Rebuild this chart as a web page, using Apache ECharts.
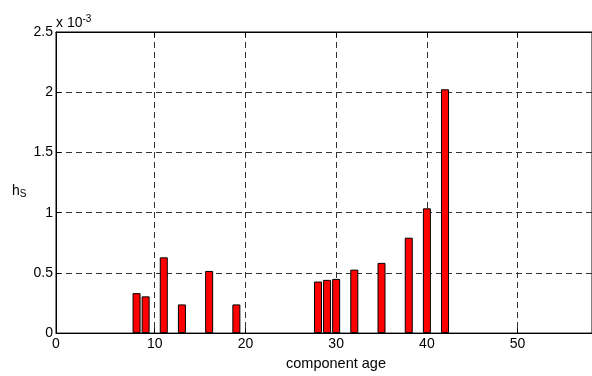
<!DOCTYPE html>
<html>
<head>
<meta charset="utf-8">
<script src="https://cdn.jsdelivr.net/npm/echarts@6/dist/echarts.min.js"></script>
<style>html,body{margin:0;padding:0;background:#fff}#c{width:592px;height:376px}</style>
</head>
<body>
<div id="c"></div>
<script>
// component ages (x)
const ages = [8, 9, 11, 13, 16, 19, 28, 29, 30, 32, 35, 38, 40, 42];
// h_S values in units of 10^-3
const hs = [0.332, 0.305, 0.629, 0.238, 0.516, 0.238, 0.428, 0.442, 0.45, 0.527, 0.583, 0.792, 1.036, 2.024];
const xLabels = [0, 10, 20, 30, 40, 50];
const xGrid = [10, 20, 30, 40, 50];
const yTicks = [0, 0.5, 1, 1.5, 2, 2.5];

const FONT = 'Liberation Sans, Arial, sans-serif';
const chart = echarts.init(document.getElementById('c'), null, {renderer: 'canvas'});
const dash = {color: '#333', type: [6, 4], width: 1};
const xMin = -0.88, xMax = 58.2;
chart.setOption({
  animation: false,
  backgroundColor: '#fff',
  grid: {left: 56, right: -3, top: 32, bottom: 33, show: true, borderColor: '#000', borderWidth: 1, backgroundColor: '#fff'},
  xAxis: [{
    type: 'value', min: xMin, max: xMax, position: 'bottom',
    axisLine: {show: true, onZero: false, lineStyle: {color: '#000', width: 1}},
    axisTick: {show: true, inside: true, length: 5, customValues: xGrid, lineStyle: {color: '#000'}},
    axisLabel: {show: true, customValues: xLabels, color: '#000', fontFamily: FONT, fontSize: 14, margin: 4,
      formatter: v => v === 0 ? '{z|0}' : String(v),
      rich: {z: {fontFamily: FONT, fontSize: 14, color: '#000', padding: [0, 16, 0, 0]}}},
    splitLine: {show: false},
    name: 'component age', nameLocation: 'middle', nameGap: 18,
    nameTextStyle: {color: '#000', fontFamily: FONT, fontSize: 14.5, padding: [0, 0, 0, 24]}
  }, {
    type: 'value', min: xMin, max: xMax, position: 'top',
    axisLine: {show: true, onZero: false, lineStyle: {color: '#000', width: 1}},
    axisTick: {show: true, inside: true, length: 5, customValues: xGrid, lineStyle: {color: '#000'}},
    axisLabel: {show: false, customValues: xGrid},
    splitLine: {show: true, lineStyle: dash}
  }],
  yAxis: {
    type: 'value', min: yTicks[0], max: yTicks[yTicks.length - 1], interval: 0.5,
    axisLine: {show: true, onZero: false, lineStyle: {color: '#000', width: 1}},
    axisTick: {show: true, inside: true, length: 5, lineStyle: {color: '#000'}},
    axisLabel: {color: '#000', fontFamily: FONT, fontSize: 14, margin: 3, formatter: v => String(v)},
    splitLine: {show: true, lineStyle: dash}
  },
  graphic: [
    {type: 'text', left: 56, top: 14, style: {text: 'x 10{s|-3}', fill: '#000', font: '14px ' + FONT,
      rich: {s: {fontSize: 10, fontFamily: FONT, fill: '#000', verticalAlign: 'top', padding: [0, 0, 8, 0]}}}},
    {type: 'text', left: 12, top: 184, style: {text: 'h{s|S}', fill: '#000', font: '14px ' + FONT,
      rich: {s: {fontSize: 10, fontFamily: FONT, fill: '#000', padding: [6, 0, 0, 0]}}}}
  ],
  series: [{
    type: 'bar', barWidth: 8,
    data: ages.map((a, i) => [a, hs[i]]),
    itemStyle: {color: '#ff0000', borderColor: '#000', borderWidth: 1}
  }]
});
</script>
</body>
</html>
